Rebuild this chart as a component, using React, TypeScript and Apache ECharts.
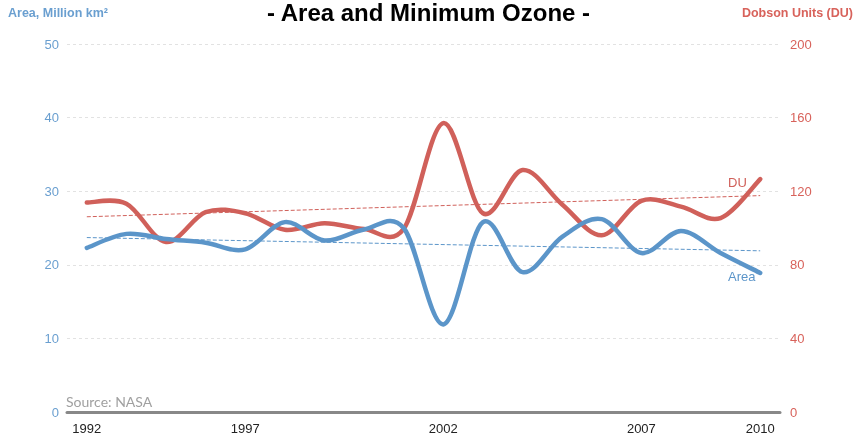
import React, { useEffect, useRef } from "react";
import * as echarts from "echarts";

const years = ["1992", "1993", "1994", "1996", "1997", "1998", "1999", "2000", "2001", "2002", "2003", "2004", "2005", "2006", "2007", "2008", "2009", "2010"];
const areaValues = [22.3, 24.2, 23.5, 23.0, 22.1, 25.8, 23.3, 24.8, 25.0, 11.9, 25.8, 19.0, 23.8, 26.2, 21.6, 24.6, 21.6, 18.9];
const duValues = [113.8, 113.2, 92.4, 108.6, 108.0, 99.0, 102.6, 99.4, 99.5, 157.0, 108.0, 131.5, 112.8, 96.0, 114.8, 111.6, 105.4, 126.6];
const areaTrend = [23.7, 21.9];
const duTrend = [106.1, 117.6];
const leftTicks = [0, 50, 10];
const rightTicks = [0, 200, 40];
const shownYearIdx = [0, 4, 9, 14, 17];

const BLUE = "#5b95c9";
const RED = "#d0605a";

function splineSeries(name: string, values: number[], yAxisIndex: number, color: string, z: number) {
  return {
    name,
    type: "custom",
    coordinateSystem: "cartesian2d",
    yAxisIndex,
    z,
    data: values.map((v, i) => [i, v]),
    renderItem: (params: any, api: any) => {
      if (params.dataIndex !== 0) return null;
      const pts = values.map((v, i) => api.coord([i, v]));
      const n = pts.length;
      let d = `M${pts[0][0]},${pts[0][1]}`;
      for (let i = 0; i < n - 1; i++) {
        const p0 = pts[Math.max(0, i - 1)];
        const p1 = pts[i];
        const p2 = pts[i + 1];
        const p3 = pts[Math.min(n - 1, i + 2)];
        const c1x = p1[0] + (p2[0] - p0[0]) / 6;
        const c1y = p1[1] + (p2[1] - p0[1]) / 6;
        const c2x = p2[0] - (p3[0] - p1[0]) / 6;
        const c2y = p2[1] - (p3[1] - p1[1]) / 6;
        d += ` C${c1x},${c1y} ${c2x},${c2y} ${p2[0]},${p2[1]}`;
      }
      return {
        type: "path",
        shape: { pathData: d },
        style: { fill: "none", stroke: color, lineWidth: 4.5, lineCap: "round", lineJoin: "round" },
      };
    },
  };
}

function trendSeries(name: string, ends: number[], yAxisIndex: number, color: string) {
  return {
    name,
    type: "line",
    yAxisIndex,
    data: [],
    markLine: {
      silent: true,
      symbol: "none",
      label: { show: false },
      lineStyle: { color, width: 1, type: [4, 2] },
      data: [[{ coord: [0, ends[0]] }, { coord: [years.length - 1, ends[1]] }]],
    },
  };
}

export default function App() {
  const ref = useRef<HTMLDivElement>(null);
  useEffect(() => {
    if (!ref.current) return;
    const chart = echarts.init(ref.current, null, { renderer: "svg" });
    chart.setOption({
      animation: false,
      title: {
        text: "- Area and Minimum Ozone -",
        left: "center",
        top: -5,
        textStyle: { fontFamily: "Liberation Sans, Arial", fontSize: 24, fontWeight: "bold", color: "#000" },
      },
      grid: { left: 67, right: 77, top: 44, bottom: 24 },
      xAxis: {
        type: "category",
        data: years,
        boundaryGap: true,
        axisLine: { lineStyle: { color: "#888", width: 3 } },
        axisTick: { show: false },
        axisLabel: {
          interval: (i: number) => shownYearIdx.includes(i),
          color: "#222",
          fontSize: 13,
          margin: 10,
          fontFamily: "Liberation Sans, Arial",
        },
      },
      yAxis: [
        {
          type: "value",
          min: leftTicks[0],
          max: leftTicks[1],
          interval: leftTicks[2],
          axisLine: { show: false },
          axisTick: { show: false },
          axisLabel: { color: "#6a9fd0", fontSize: 13, margin: 8, fontFamily: "Liberation Sans, Arial" },
          splitLine: { lineStyle: { color: "#e2e2e2", type: [3, 3] } },
        },
        {
          type: "value",
          min: rightTicks[0],
          max: rightTicks[1],
          interval: rightTicks[2],
          axisLine: { show: false },
          axisTick: { show: false },
          axisLabel: { color: "#d8625b", fontSize: 13, margin: 10, fontFamily: "Liberation Sans, Arial" },
          splitLine: { show: false },
        },
      ],
      series: [
        trendSeries("AreaTrend", areaTrend, 0, BLUE),
        trendSeries("DUTrend", duTrend, 1, RED),
        splineSeries("DU", duValues, 1, RED, 2),
        splineSeries("Area", areaValues, 0, BLUE, 3),
      ],
      graphic: [
        {
          type: "text",
          left: 8,
          top: 6,
          style: { text: "Area, Million km²", fill: "#6a9fd0", font: "bold 12.5px Liberation Sans, Arial" },
        },
        {
          type: "text",
          right: 4,
          top: 6,
          style: { text: "Dobson Units (DU)", fill: "#d8625b", font: "bold 12.5px Liberation Sans, Arial" },
        },
        {
          type: "text",
          left: 66,
          top: 394,
          style: { text: "Source: NASA", fill: "#a0a0a0", font: "14px Lato, sans-serif" },
        },
        {
          type: "text",
          left: 728,
          top: 176,
          style: { text: "DU", fill: RED, font: "13px Liberation Sans, Arial" },
        },
        {
          type: "text",
          left: 728,
          top: 270,
          style: { text: "Area", fill: BLUE, font: "13px Liberation Sans, Arial" },
        },
      ],
    });
    return () => chart.dispose();
  }, []);
  return <div ref={ref} style={{ position: "fixed", left: 0, top: 0, width: 857, height: 436 }} />;
}
